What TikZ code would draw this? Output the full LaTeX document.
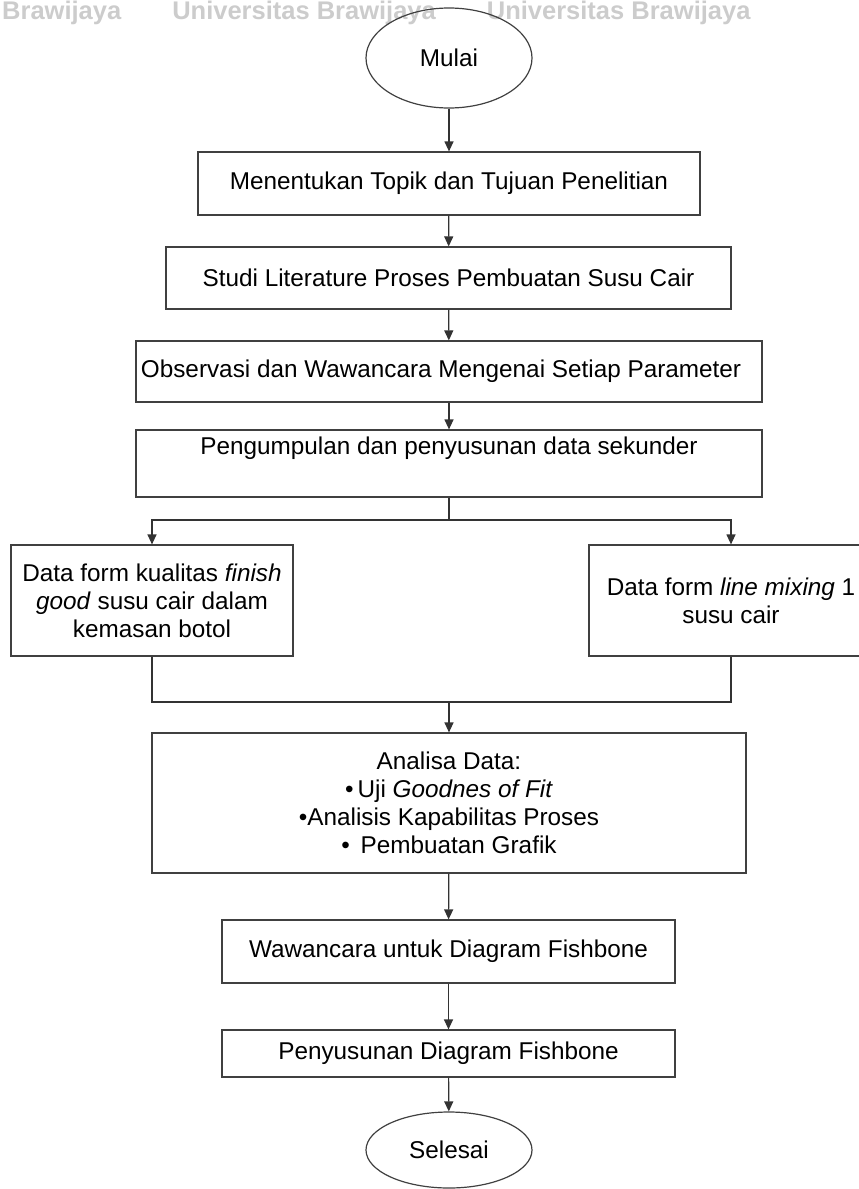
\documentclass[tikz,border=0pt]{standalone}
\usepackage{fontspec}
\setmainfont{Liberation Sans}
\usetikzlibrary{shapes.geometric,arrows.meta}

\begin{document}
\begin{tikzpicture}[
  x=1pt,y=-1pt,
  >={Triangle[length=10pt,width=9pt]},
  box/.style={draw=black!75,line width=1.2pt,minimum height=63pt,align=center,
    inner sep=4pt,font=\fontsize{24.3}{28}\selectfont},
  oval/.style={box,ellipse},
  arus/.style={draw=black!80,line width=1.2pt}]
  \useasboundingbox (0,0) rectangle (859,1189);
  \clip (0,0) rectangle (859,1189);
  % watermark
  \node[anchor=base west,inner sep=0pt,text=black!20,font=\fontsize{25.5}{28}\selectfont\bfseries] (wm) at (2,19)
    {Brawijaya\hspace{2em}Universitas Brawijaya\hspace{2em}Universitas Brawijaya};
  \node[oval,minimum width=166pt,minimum height=100pt] (mulai) at (449,58) {Mulai};
  \node[box,minimum width=502pt] (topik) at (449,183.5) {Menentukan Topik dan Tujuan Penelitian};
  \node[box,minimum width=565pt,minimum height=62pt] (studi) at (448.5,278) {Studi Literature Proses Pembuatan Susu Cair};
  \node[box,minimum width=626pt,minimum height=61pt] (obs) at (449,371.5)
    {Observasi dan Wawancara Mengenai Setiap Parameter\hspace*{16pt}};
  \node[box,minimum width=626pt,minimum height=67pt] (kumpul) at (449,463.5) {Pengumpulan dan penyusunan data sekunder\\\strut};
  \node[box,minimum width=282pt,minimum height=111pt] (kiri) at (152,600.5)
    {Data form kualitas \textit{finish}\\\textit{good} susu cair dalam\\kemasan botol};
  \node[box,minimum width=284pt,minimum height=111pt] (kanan) at (731,600.5)
    {Data form \textit{line mixing} 1\\susu cair};
  \node[box,minimum width=594pt,minimum height=140pt] (analisa) at (449,803)
    {Analisa Data:\\\textbullet\,Uji \textit{Goodnes of Fit}\\\textbullet Analisis Kapabilitas Proses\\\textbullet\, Pembuatan Grafik};
  \node[box,minimum width=453pt] (wawan) at (448.5,951.5) {Wawancara untuk Diagram Fishbone};
  \node[box,minimum width=453pt,minimum height=47pt] (susun) at (448.5,1053.5) {Penyusunan Diagram Fishbone};
  \node[oval,minimum width=166pt,minimum height=76pt] (selesai) at (449,1150) {Selesai};
  \coordinate (cabang) at (449,520);
  \coordinate (gabung) at (449,702);

  \draw[arus,->] (mulai) -- (topik);
  \draw[arus,->] (topik) -- (studi);
  \draw[arus,->] (studi) -- (obs);
  \draw[arus,->] (obs) -- (kumpul);
  \draw[arus] (kumpul.south) -- (cabang);
  \draw[arus,->] (cabang) -| (kiri.north);
  \draw[arus,->] (cabang) -| (kanan.north);
  \draw[arus] (kiri.south) |- (gabung);
  \draw[arus] (kanan.south) |- (gabung);
  \draw[arus,->] (gabung) -- (analisa);
  \draw[arus,->] (analisa) -- (wawan);
  \draw[arus,->] (wawan) -- (susun);
  \draw[arus,->] (susun) -- (selesai);
\end{tikzpicture}
\end{document}
